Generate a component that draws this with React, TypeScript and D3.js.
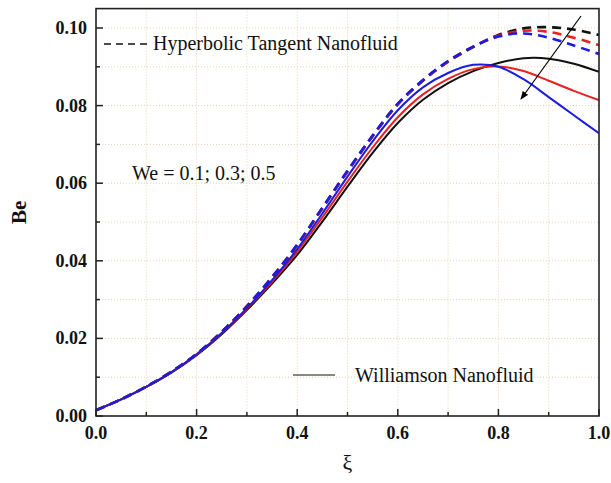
import React from "react";
import * as d3 from "d3";

// xi sample points
const xi = [0, 0.05, 0.1, 0.15, 0.2, 0.25, 0.3, 0.35, 0.4, 0.45, 0.5, 0.55, 0.6, 0.65, 0.7, 0.75, 0.8, 0.85, 0.9, 0.95, 1.0];

// Williamson nanofluid (solid), We = 0.1; 0.3; 0.5
const willBlack = [0.0015, 0.0043, 0.0075, 0.0112, 0.0157, 0.0211, 0.0273, 0.0341, 0.0415, 0.0501, 0.0591, 0.0678, 0.0755, 0.0815, 0.0858, 0.0889, 0.091, 0.0922, 0.0921, 0.0908, 0.0887];
const willRed = [0.0015, 0.0043, 0.0075, 0.0113, 0.0158, 0.0213, 0.0276, 0.0346, 0.0423, 0.0512, 0.0604, 0.0692, 0.077, 0.0829, 0.0869, 0.0894, 0.0901, 0.0889, 0.0864, 0.0838, 0.0814];
const willBlue = [0.0015, 0.0043, 0.0075, 0.0113, 0.0159, 0.0214, 0.0278, 0.035, 0.043, 0.0522, 0.0617, 0.0708, 0.0788, 0.0847, 0.0884, 0.0905, 0.09, 0.0868, 0.0822, 0.0775, 0.0729];

// Hyperbolic tangent nanofluid (dashed)
const hypBlack = [0.0015, 0.0043, 0.0076, 0.0114, 0.016, 0.0217, 0.0282, 0.0357, 0.044, 0.0535, 0.063, 0.0721, 0.0803, 0.0864, 0.0913, 0.0951, 0.0982, 0.0999, 0.1002, 0.0996, 0.0982];
const hypRed = [0.0015, 0.0043, 0.0076, 0.0114, 0.016, 0.0217, 0.0283, 0.0358, 0.0441, 0.0536, 0.0631, 0.0722, 0.0804, 0.0865, 0.0914, 0.0952, 0.098, 0.0993, 0.099, 0.0975, 0.0956];
const hypBlue = [0.0015, 0.0043, 0.0076, 0.0114, 0.016, 0.0217, 0.0283, 0.0358, 0.0442, 0.0537, 0.0632, 0.0723, 0.0805, 0.0866, 0.0915, 0.0952, 0.0978, 0.0986, 0.0975, 0.0955, 0.0933];

const xTicks = [0, 0.2, 0.4, 0.6, 0.8, 1.0];
const yTicks = [0, 0.02, 0.04, 0.06, 0.08, 0.1];

const BLACK = "#111";
const RED = "#e8201e";
const BLUE = "#1c1ce0";

const series = [
  { values: willBlack, color: BLACK, dashed: false },
  { values: willRed, color: RED, dashed: false },
  { values: willBlue, color: BLUE, dashed: false },
  { values: hypBlack, color: BLACK, dashed: true },
  { values: hypRed, color: RED, dashed: true },
  { values: hypBlue, color: BLUE, dashed: true },
];

const W = 611;
const H = 483;
const left = 96;
const right = 599;
const bottom = 416;

const x = d3.scaleLinear().domain([0, 1]).range([left, right]);
const y = d3.scaleLinear().domain([0, 0.1]).range([bottom, 28]);
const top = y(0.105);

const serif = "'Liberation Serif', 'Times New Roman', serif";

export default function App() {
  const line = d3
    .line<number>()
    .x((_, i) => x(xi[i]))
    .y((d) => y(d))
    .curve(d3.curveCatmullRom.alpha(0.5));

  const gridX = d3.range(1, 10).map((i) => i / 10);
  const gridY = d3.range(1, 11).map((i) => i / 100);
  const minorX = d3.range(1, 10, 2).map((i) => i / 10);
  const minorY = d3.range(1, 11, 2).map((i) => i / 100);

  return (
    <svg width={W} height={H} style={{ position: "absolute", left: 0, top: 0, background: "#fff" }}>
      <defs>
        <clipPath id="plot">
          <rect x={left} y={top} width={right - left} height={bottom - top} />
        </clipPath>
        <marker id="arr" viewBox="0 0 10 10" refX="9" refY="5" markerWidth="7" markerHeight="7" orient="auto">
          <path d="M0,1 L10,5 L0,9 Z" fill="#000" />
        </marker>
      </defs>

      {/* grid */}
      {gridX.map((t) => (
        <line key={"gx" + t} x1={x(t)} x2={x(t)} y1={top} y2={bottom} stroke="#e6d3b0" strokeWidth={1} strokeDasharray="1,2" />
      ))}
      {gridY.map((t) => (
        <line key={"gy" + t} x1={left} x2={right} y1={y(t)} y2={y(t)} stroke="#e6d3b0" strokeWidth={1} strokeDasharray="1,2" />
      ))}

      {/* curves */}
      <g clipPath="url(#plot)">
        {series.map((s, i) => (
          <path
            key={i}
            d={line(s.values) || ""}
            fill="none"
            stroke={s.color}
            strokeWidth={s.dashed ? 2.6 : 2}
            strokeDasharray={s.dashed ? "9,6" : undefined}
          />
        ))}
      </g>

      {/* frame */}
      <rect x={left} y={top} width={right - left} height={bottom - top} fill="none" stroke="#222" strokeWidth={1.6} />

      {/* ticks */}
      {xTicks.map((t) => (
        <line key={"xt" + t} x1={x(t)} x2={x(t)} y1={bottom} y2={bottom - 7} stroke="#222" strokeWidth={1.5} />
      ))}
      {minorX.map((t) => (
        <line key={"xm" + t} x1={x(t)} x2={x(t)} y1={bottom} y2={bottom - 4} stroke="#222" strokeWidth={1.5} />
      ))}
      {yTicks.map((t) => (
        <line key={"yt" + t} x1={left} x2={left + 7} y1={y(t)} y2={y(t)} stroke="#222" strokeWidth={1.5} />
      ))}
      {minorY.map((t) => (
        <line key={"ym" + t} x1={left} x2={left + 4} y1={y(t)} y2={y(t)} stroke="#222" strokeWidth={1.5} />
      ))}

      {/* tick labels */}
      {xTicks.map((t) => (
        <text key={"xl" + t} x={x(t)} y={bottom + 23} textAnchor="middle" fontFamily={serif} fontWeight="bold" fontSize={18} fill="#111">
          {d3.format(".1f")(t)}
        </text>
      ))}
      {yTicks.map((t) => (
        <text key={"yl" + t} x={left - 9} y={y(t) + 6} textAnchor="end" fontFamily={serif} fontWeight="bold" fontSize={18} fill="#111">
          {d3.format(".2f")(t)}
        </text>
      ))}

      {/* axis titles */}
      <text transform={`translate(26,${(top + bottom) / 2}) rotate(-90)`} textAnchor="middle" fontFamily={serif} fontWeight="bold" fontSize={21} fill="#111">
        Be
      </text>
      <text x={x(0.5)} y={470} textAnchor="middle" fontFamily={serif} fontSize={22} fill="#111">
        ξ
      </text>

      {/* legend */}
      <line x1={104} x2={148} y1={44} y2={44} stroke="#111" strokeWidth={1.6} strokeDasharray="7,5" />
      <text x={153} y={50} fontFamily={serif} fontSize={20} fill="#111">
        Hyperbolic Tangent Nanofluid
      </text>
      <line x1={293} x2={335} y1={375} y2={375} stroke="#111" strokeWidth={1} />
      <text x={355} y={382} fontFamily={serif} fontSize={20} fill="#111">
        Williamson Nanofluid
      </text>
      <text x={132} y={180} fontFamily={serif} fontSize={20} fill="#111">
        We = 0.1; 0.3; 0.5
      </text>

      {/* arrow */}
      <line x1={581} y1={16} x2={521} y2={99} stroke="#000" strokeWidth={1.2} markerEnd="url(#arr)" />
    </svg>
  );
}
